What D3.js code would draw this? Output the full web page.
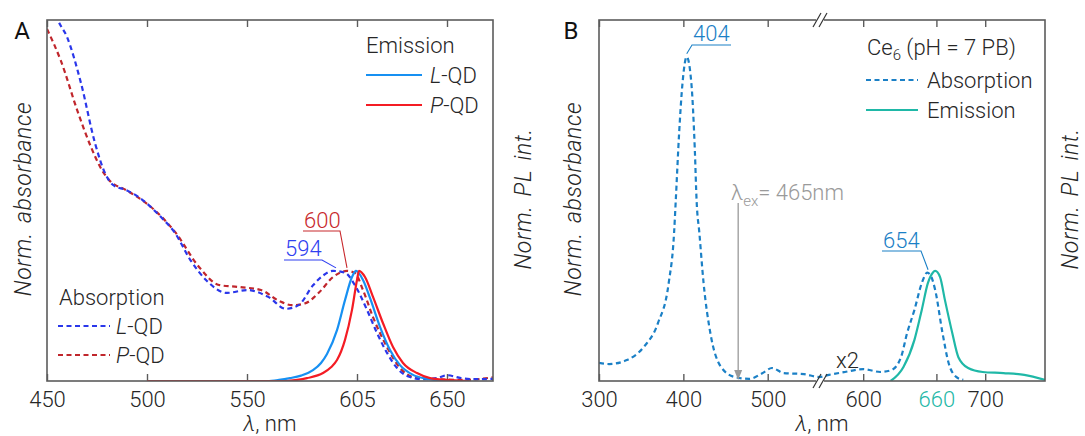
<!DOCTYPE html>
<html>
<head>
<meta charset="utf-8">
<script src="https://cdnjs.cloudflare.com/ajax/libs/d3/7.8.5/d3.min.js"></script>
<style>
  body { margin: 0; background: #fff; }
  svg { font-family: Roboto, 'Liberation Sans', Arial, sans-serif; font-weight: 300; }
</style>
</head>
<body>
<svg id="fig" width="1085" height="436"></svg>
<script>
// ---- panel A: QDs, wavelength (nm) / normalised value
const aTicks = [450, 500, 550, 605, 650]
const lqdAbs = [[452,1.06],[455.5,1.0],[460,0.953],[467,0.825],[474,0.659],[479,0.576],[483,0.543],[489.5,0.529],[495.7,0.510],[507,0.454],[514,0.410],[521.7,0.335],[529.5,0.280],[540,0.244],[550,0.252],[560.6,0.233],[569.5,0.200],[576,0.211],[583,0.265],[588,0.292],[593,0.305],[599,0.300],[604,0.265],[610,0.197],[615,0.133],[620,0.078],[625,0.036],[630,0.014],[638,0.005],[645,0.008],[650,0.016],[657,0.008],[665,0.005],[673,0.006]]
const pqdAbs = [[450,0.975],[456.8,0.889],[465.6,0.742],[472,0.648],[477.5,0.584],[481,0.557],[489.5,0.529],[495.7,0.508],[502,0.482],[514,0.413],[526,0.316],[536,0.266],[546.6,0.260],[557,0.252],[566,0.222],[572.6,0.210],[579,0.215],[586,0.245],[593,0.288],[600,0.305],[604,0.299],[608,0.252],[613,0.177],[620,0.094],[626.5,0.036],[633,0.011],[641.5,0.006],[658,0.003],[673,0.010]]
const lqdEm = [[500,0],[560,0],[566,0.003],[571.5,0.008],[577,0.015],[583,0.03],[587,0.05],[590,0.075],[595,0.141],[599,0.224],[602.5,0.288],[604.5,0.305],[608,0.28],[611.5,0.23],[616.5,0.15],[621.5,0.086],[626.5,0.044],[633,0.017],[640,0.006],[648,0.001],[655,0]]
const pqdEm = [[500,0],[570,0],[575,0.003],[580,0.008],[588,0.022],[592,0.038],[595,0.058],[599,0.114],[602.5,0.197],[605,0.28],[606,0.305],[609,0.288],[613,0.233],[618,0.16],[623,0.094],[628,0.05],[635,0.022],[641.5,0.008],[650,0.003],[660,0]]
const aPeaks = [594, 600]

// ---- panel B: Ce6 (pH = 7 PB)
const bTicks = [300, 400, 500, 600, 660, 700]
const ce6Abs = [[300,0.050],[312,0.047],[333,0.058],[353,0.094],[370,0.161],[382.6,0.271],[389,0.41],[391,0.50],[395,0.687],[399,0.825],[404,0.898],[409.5,0.825],[413.6,0.64],[415.7,0.50],[419,0.41],[424,0.271],[432,0.133],[444.6,0.039],[461,0.011],[478,0.006],[494,0.022],[505,0.036],[519,0.022],[543,0.019],[561,0.011],[572,0.017],[585,0.025],[600,0.033],[614,0.025],[623,0.030],[631,0.066],[636,0.133],[642,0.197],[648,0.271],[652.5,0.300],[655,0.294],[659,0.252],[665,0.133],[670,0.050],[676,0.012],[682,0.003]]
const ce6Em = [[622.5,0],[633,0.039],[642,0.114],[648,0.197],[653,0.271],[657,0.30],[659,0.305],[663,0.288],[667,0.224],[673,0.133],[678,0.066],[686,0.036],[698,0.025],[715,0.022],[732,0.017],[749,0.003]]
const bPeaks = [404, 654]
const excitation = 465

const svg = d3.select('#fig')
const ink = '#262626'
const frameCol = '#5c5c5c'
const fs = 22
const yTop = 20, yBot = 381

const xA = d3.scaleLinear().domain([450, 673]).range([47, 493])
const xB = d3.scaleLinear().domain([300, 562, 564.6, 749]).range([599, 820, 820, 1045])
const y = d3.scaleLinear().domain([0, 1]).range([yBot, yTop])

const defs = svg.append('defs')
function clip(id, x) {
  defs.append('clipPath').attr('id', id).append('rect')
    .attr('x', x.range()[0]).attr('y', yTop)
    .attr('width', x.range()[x.range().length - 1] - x.range()[0]).attr('height', yBot - yTop)
}
clip('clipA', xA)
clip('clipB', xB)

function curve(x, data, color, dashed, clipId) {
  svg.append('path').datum(data)
    .attr('clip-path', `url(#${clipId})`)
    .attr('fill', 'none')
    .attr('stroke', color)
    .attr('stroke-width', 2.2)
    .attr('stroke-dasharray', dashed ? '5,3.5' : null)
    .attr('d', d3.line().x(d => x(d[0])).y(d => y(d[1])).curve(d3.curveMonotoneX))
}

function axes(x, vals) {
  const b = svg.append('g').attr('transform', `translate(0,${yBot})`)
    .call(d3.axisBottom(x).tickValues(vals).tickSizeInner(-7).tickSizeOuter(0).tickPadding(10))
  const t = svg.append('g').attr('transform', `translate(0,${yTop})`)
    .call(d3.axisTop(x).tickValues(vals).tickSizeInner(-7).tickSizeOuter(0).tickFormat(''))
  for (const g of [b, t]) {
    g.attr('font-family', null).attr('font-size', fs)
    g.select('.domain').remove()
    g.selectAll('line').attr('stroke', frameCol).attr('stroke-width', 1.4)
  }
  b.selectAll('text').attr('fill', ink)
  return b
}

function frame(x) {
  const r = x.range()
  svg.append('rect').attr('x', r[0]).attr('y', yTop)
    .attr('width', r[r.length - 1] - r[0]).attr('height', yBot - yTop)
    .attr('fill', 'none').attr('stroke', frameCol).attr('stroke-width', 1.6)
}

function txt(x0, y0, s, color, size, anchor) {
  return svg.append('text').attr('x', x0).attr('y', y0).attr('dy', '0.35em')
    .attr('fill', color || ink).attr('font-size', size || fs)
    .attr('text-anchor', anchor || 'start').text(s)
}

function qdText(x0, y0, letter) {
  const t = txt(x0, y0, '')
  t.append('tspan').attr('font-style', 'italic').text(letter)
  t.append('tspan').text('-QD')
}

function ytitle(cx, cy, s, size) {
  svg.append('text').attr('transform', `translate(${cx},${cy}) rotate(-90)`)
    .attr('dy', '0.35em').attr('text-anchor', 'middle')
    .attr('font-style', 'italic').attr('font-size', size).attr('fill', ink)
    .attr('letter-spacing', 0.6).attr('word-spacing', 3).text(s)
}

function xtitle(cx) {
  const t = svg.append('text').attr('x', cx).attr('y', 423).attr('dy', '0.35em')
    .attr('text-anchor', 'middle').attr('font-size', fs).attr('fill', ink)
  t.append('tspan').attr('font-style', 'italic').text('λ')
  t.append('tspan').text(', nm')
}

function leader(lx0, lx1, ly, px, py, color) {
  svg.append('path')
    .attr('d', `M${lx0},${ly}H${lx1}L${px},${py}`)
    .attr('fill', 'none').attr('stroke', color).attr('stroke-width', 1.1)
}

// ================= panel A =================
const blueD = '#2a37ea', redD = '#c0262c', blueS = '#1790f2', redS = '#f41c24'
axes(xA, aTicks)
curve(xA, pqdAbs, redD, true, 'clipA')
curve(xA, lqdAbs, blueD, true, 'clipA')
curve(xA, lqdEm, blueS, false, 'clipA')
curve(xA, pqdEm, redS, false, 'clipA')
frame(xA)

svg.append('text').attr('x', 22).attr('y', 31).attr('dy', '0.35em').attr('text-anchor', 'middle')
  .attr('font-size', 24).attr('font-weight', 400).attr('fill', '#111').text('A')
ytitle(23, 199, 'Norm. absorbance', 23)
ytitle(523, 199, 'Norm. PL int.', 23)
xtitle(270)

// emission legend
txt(366, 45, 'Emission')
svg.append('line').attr('x1', 366).attr('x2', 422).attr('y1', 75).attr('y2', 75).attr('stroke', blueS).attr('stroke-width', 2.2)
qdText(430, 75, 'L')
svg.append('line').attr('x1', 366).attr('x2', 422).attr('y1', 105).attr('y2', 105).attr('stroke', redS).attr('stroke-width', 2.2)
qdText(430, 105, 'P')

// absorption legend
txt(59, 297, 'Absorption')
svg.append('line').attr('x1', 58).attr('x2', 110).attr('y1', 326).attr('y2', 326).attr('stroke', blueD).attr('stroke-width', 2.2).attr('stroke-dasharray', '5,3.5')
qdText(116, 326, 'L')
svg.append('line').attr('x1', 58).attr('x2', 110).attr('y1', 355).attr('y2', 355).attr('stroke', redD).attr('stroke-width', 2.2).attr('stroke-dasharray', '5,3.5')
qdText(116, 355, 'P')

// peak labels
txt(285, 248, String(aPeaks[0]), '#2f3ff0')
leader(284, 322, 260, xA(aPeaks[0]) + 1, y(0.305) - 3, '#2f3ff0')
txt(304, 220, String(aPeaks[1]), '#c8282c')
leader(303, 340, 231, xA(aPeaks[1]), y(0.305) - 3, '#c8282c')

// ================= panel B =================
const ceBlue = '#1b80c6', teal = '#1fb8a7'
const bAxis = axes(xB, bTicks)
bAxis.selectAll('text').filter(d => d === 660).attr('fill', teal)
curve(xB, ce6Abs, ceBlue, true, 'clipB')
curve(xB, ce6Em, teal, false, 'clipB')
frame(xB)

// axis break marks
const xBr = xB(563)
for (const yy of [yTop, yBot]) {
  svg.append('rect').attr('x', xBr - 4).attr('y', yy - 2).attr('width', 8).attr('height', 4).attr('fill', '#fff')
  for (const dx of [-3, 3]) {
    svg.append('line').attr('x1', xBr + dx - 4).attr('y1', yy + 7).attr('x2', xBr + dx + 4).attr('y2', yy - 7)
      .attr('stroke', '#333').attr('stroke-width', 1.2)
  }
}

svg.append('text').attr('x', 571).attr('y', 31).attr('dy', '0.35em').attr('text-anchor', 'middle')
  .attr('font-size', 24).attr('font-weight', 400).attr('fill', '#111').text('B')
ytitle(573, 199, 'Norm. absorbance', 23)
ytitle(1070, 199, 'Norm. PL int.', 23)
xtitle(822)

// legend
const ce = txt(867, 47, 'Ce')
ce.append('tspan').attr('font-size', 15).attr('dy', 5).text('6')
ce.append('tspan').attr('dy', -5).text(' (pH = 7 PB)')
svg.append('line').attr('x1', 866).attr('x2', 918).attr('y1', 80).attr('y2', 80).attr('stroke', ceBlue).attr('stroke-width', 2.2).attr('stroke-dasharray', '5,3.5')
txt(927, 80, 'Absorption')
svg.append('line').attr('x1', 866).attr('x2', 918).attr('y1', 110).attr('y2', 110).attr('stroke', teal).attr('stroke-width', 2.2)
txt(927, 110, 'Emission')

// peak labels
txt(693, 33, String(bPeaks[0]), ceBlue)
leader(731, 692, 45, xB(bPeaks[0]), y(0.898) - 3, ceBlue)
txt(883, 240, String(bPeaks[1]), ceBlue)
leader(882, 921, 251, xB(bPeaks[1]) - 1, y(0.30) - 3, ceBlue)

// excitation arrow
const gray = '#9a9a9a'
const ex = txt(731, 192, 'λ', gray)
ex.append('tspan').attr('font-size', 15).attr('dy', 6).text('ex')
ex.append('tspan').attr('dy', -6).text('= ' + excitation + 'nm')
svg.append('line').attr('x1', xB(excitation)).attr('x2', xB(excitation)).attr('y1', 203).attr('y2', yBot - 8)
  .attr('stroke', gray).attr('stroke-width', 1.3)
svg.append('path')
  .attr('d', `M${xB(excitation) - 4},${yBot - 11}L${xB(excitation) + 4},${yBot - 11}L${xB(excitation)},${yBot - 1}Z`)
  .attr('fill', gray)

txt(836, 360, 'x2')
</script>
</body>
</html>
